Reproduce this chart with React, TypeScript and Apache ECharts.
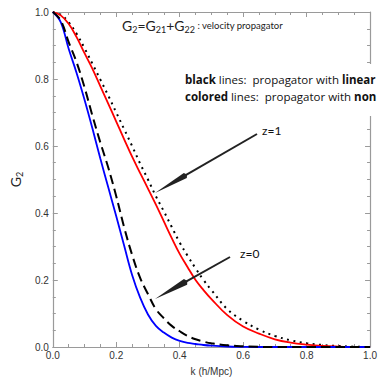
import { useEffect, useRef } from "react";
import * as echarts from "echarts";

// k (h/Mpc) grid on which the curves were read
const kGrid = [0, 0.025, 0.05, 0.075, 0.1, 0.125, 0.15, 0.175, 0.2, 0.225, 0.25, 0.275, 0.3, 0.325, 0.35, 0.375, 0.4, 0.425, 0.45, 0.475, 0.5, 0.55, 0.6, 0.65, 0.7, 0.75, 0.8, 0.85, 0.9, 0.95, 1.0];

// z=0, nonlinear propagator (blue)
const blueZ0 = [1, 0.97, 0.89, 0.818, 0.738, 0.652, 0.562, 0.476, 0.39, 0.302, 0.215, 0.148, 0.097, 0.063, 0.043, 0.028, 0.018, 0.012, 0.009, 0.006, 0.004, 0.0015, 0.0005, 0, 0, 0, 0, 0, 0, 0, 0];
// z=0, linear propagator (black dashed)
const dashedZ0 = [1, 0.975, 0.91, 0.85, 0.775, 0.69, 0.61, 0.535, 0.45, 0.357, 0.275, 0.207, 0.158, 0.113, 0.086, 0.063, 0.047, 0.033, 0.023, 0.016, 0.011, 0.005, 0.002, 0.0005, 0, 0, 0, 0, 0, 0, 0];
// z=1, nonlinear propagator (red)
const redZ1 = [1, 0.99, 0.965, 0.925, 0.877, 0.83, 0.778, 0.726, 0.673, 0.62, 0.568, 0.52, 0.473, 0.425, 0.375, 0.325, 0.278, 0.238, 0.2, 0.17, 0.143, 0.095, 0.061, 0.04, 0.023, 0.013, 0.007, 0.003, 0.0012, 0.0004, 0];
// z=1, linear propagator (black dotted)
const dottedZ1 = [1, 0.992, 0.97, 0.935, 0.892, 0.845, 0.798, 0.75, 0.7, 0.65, 0.6, 0.548, 0.5, 0.45, 0.405, 0.358, 0.312, 0.272, 0.235, 0.2, 0.17, 0.113, 0.078, 0.052, 0.033, 0.02, 0.011, 0.006, 0.003, 0.001, 0];

const axisMin = 0;
const axisMax = 1;
const axisInterval = 0.2;

const AXIS_GRAY = "#9a9a9a";
const LABEL_COLOR = "#333";
const SANS = "'Liberation Sans', Arial, sans-serif";
const MYRIAD = "Lato, 'Open Sans', sans-serif";
const LEGEND_FONT = "'Open Sans', Lato, sans-serif";

function arrow(tail: [number, number], tip: [number, number], headLen: number, halfW: number) {
  const dx = tail[0] - tip[0];
  const dy = tail[1] - tip[1];
  const len = Math.sqrt(dx * dx + dy * dy);
  const ux = dx / len;
  const uy = dy / len;
  const bx = tip[0] + ux * headLen;
  const by = tip[1] + uy * headLen;
  const px = -uy;
  const py = ux;
  return [
    {
      type: "line",
      z: 50,
      shape: { x1: tail[0], y1: tail[1], x2: bx, y2: by },
      style: { stroke: "#222", lineWidth: 2 },
    },
    {
      type: "polygon",
      z: 50,
      shape: {
        points: [
          [tip[0], tip[1]],
          [bx + px * halfW, by + py * halfW],
          [bx + ux * 2, by + uy * 2],
          [bx - px * halfW, by - py * halfW],
        ],
      },
      style: { fill: "#222" },
    },
  ];
}

export default function App() {
  const ref = useRef<HTMLDivElement>(null);
  useEffect(() => {
    if (!ref.current) return;
    const chart = echarts.init(ref.current, null, { renderer: "svg" });
    const mk = (arr: number[]) => kGrid.map((k, i) => [k, arr[i]]);

    const baseAxis = (extra: any) => ({
      type: "value",
      min: axisMin,
      max: axisMax,
      interval: axisInterval,
      splitLine: { show: false },
      axisLine: { show: true, onZero: false, lineStyle: { color: AXIS_GRAY, width: 1.2 } },
      axisTick: { show: true, inside: true, length: 5, lineStyle: { color: AXIS_GRAY } },
      minorTick: { show: true, splitNumber: 4, length: 3, lineStyle: { color: AXIS_GRAY } },
      ...extra,
    });

    const lineSeries = (arr: number[], lineStyle: any, z: number) => ({
      type: "line",
      data: mk(arr),
      smooth: 0.4,
      showSymbol: false,
      lineStyle,
      z,
    });

    chart.setOption({
      animation: false,
      backgroundColor: "#fff",
      grid: { left: 46, right: 9, top: 12, bottom: 30, containLabel: false },
      xAxis: [
        baseAxis({
          position: "bottom",
          axisLabel: {
            color: LABEL_COLOR,
            fontSize: 10,
            fontFamily: SANS,
            margin: 3,
            formatter: (v: number) => v.toFixed(1),
          },
          name: "k (h/Mpc)",
          nameLocation: "middle",
          nameGap: 19,
          nameTextStyle: { color: LABEL_COLOR, fontSize: 10, fontFamily: SANS },
        }),
        baseAxis({ position: "top", axisLabel: { show: false } }),
      ],
      yAxis: [
        baseAxis({
          position: "left",
          axisLabel: {
            color: LABEL_COLOR,
            fontSize: 10,
            fontFamily: SANS,
            margin: 4,
            formatter: (v: number) => v.toFixed(1),
          },
          name: "{g|G}{s|2}",
          nameLocation: "middle",
          nameGap: 28,
          nameTextStyle: {
            color: "#222",
            fontFamily: MYRIAD,
            rich: {
              g: { fontSize: 14, fontFamily: MYRIAD, color: "#222", lineHeight: 18, verticalAlign: "middle" },
              s: { fontSize: 9, fontFamily: MYRIAD, color: "#222", lineHeight: 18, verticalAlign: "bottom" },
            },
          },
        }),
        baseAxis({ position: "right", axisLabel: { show: false } }),
      ],
      series: [
        lineSeries(dottedZ1, { color: "#000", width: 2, type: [2, 4.5], cap: "butt" }, 3),
        lineSeries(redZ1, { color: "#ff0000", width: 1.8 }, 4),
        lineSeries(blueZ0, { color: "#0000ff", width: 1.8 }, 4),
        lineSeries(dashedZ0, { color: "#000", width: 2, type: [9.5, 5] }, 5),
      ],
      graphic: [
        {
          type: "rect",
          z: 40,
          shape: { x: 180, y: 64, width: 210, height: 52 },
          style: { fill: "#fff" },
        },
        {
          type: "text",
          z: 60,
          x: 122,
          y: 25,
          style: {
            text: "{g|G}{s|2}{g|=G}{s|21}{g|+G}{s|22}{t| : velocity propagator}",
            verticalAlign: "middle",
            rich: {
              g: { fontSize: 14, fontFamily: MYRIAD, fill: "#222", lineHeight: 18, verticalAlign: "middle" },
              s: { fontSize: 9, fontFamily: MYRIAD, fill: "#222", lineHeight: 18, verticalAlign: "bottom" },
              t: { fontSize: 9.5, fontFamily: MYRIAD, fill: "#222", lineHeight: 18, verticalAlign: "middle" },
            },
          },
        },
        {
          type: "text",
          z: 60,
          x: 185,
          y: 79,
          style: {
            text: "{b|black}{n| lines:  propagator with }{b|linear}",
            verticalAlign: "middle",
            rich: {
              b: { fontSize: 11.5, fontWeight: "bold", fontFamily: LEGEND_FONT, fill: "#111" },
              n: { fontSize: 11.5, fontFamily: LEGEND_FONT, fill: "#111" },
            },
          },
        },
        {
          type: "text",
          z: 60,
          x: 185,
          y: 96,
          style: {
            text: "{b|colored}{n| lines:  propagator with }{b|non}",
            verticalAlign: "middle",
            rich: {
              b: { fontSize: 11.5, fontWeight: "bold", fontFamily: LEGEND_FONT, fill: "#111" },
              n: { fontSize: 11.5, fontFamily: LEGEND_FONT, fill: "#111" },
            },
          },
        },
        {
          type: "text",
          z: 60,
          x: 262,
          y: 130,
          style: { text: "z=1", fontSize: 12, fontFamily: MYRIAD, fill: "#111", verticalAlign: "middle" },
        },
        {
          type: "text",
          z: 60,
          x: 240,
          y: 253,
          style: { text: "z=0", fontSize: 12, fontFamily: MYRIAD, fill: "#111", verticalAlign: "middle" },
        },
        ...arrow([257, 134], [155, 193], 35, 3),
        ...arrow([230, 257], [155, 299], 35, 3.3),
      ],
    });
    return () => chart.dispose();
  }, []);
  return <div ref={ref} style={{ position: "absolute", left: 0, top: 0, width: 380, height: 381 }} />;
}
